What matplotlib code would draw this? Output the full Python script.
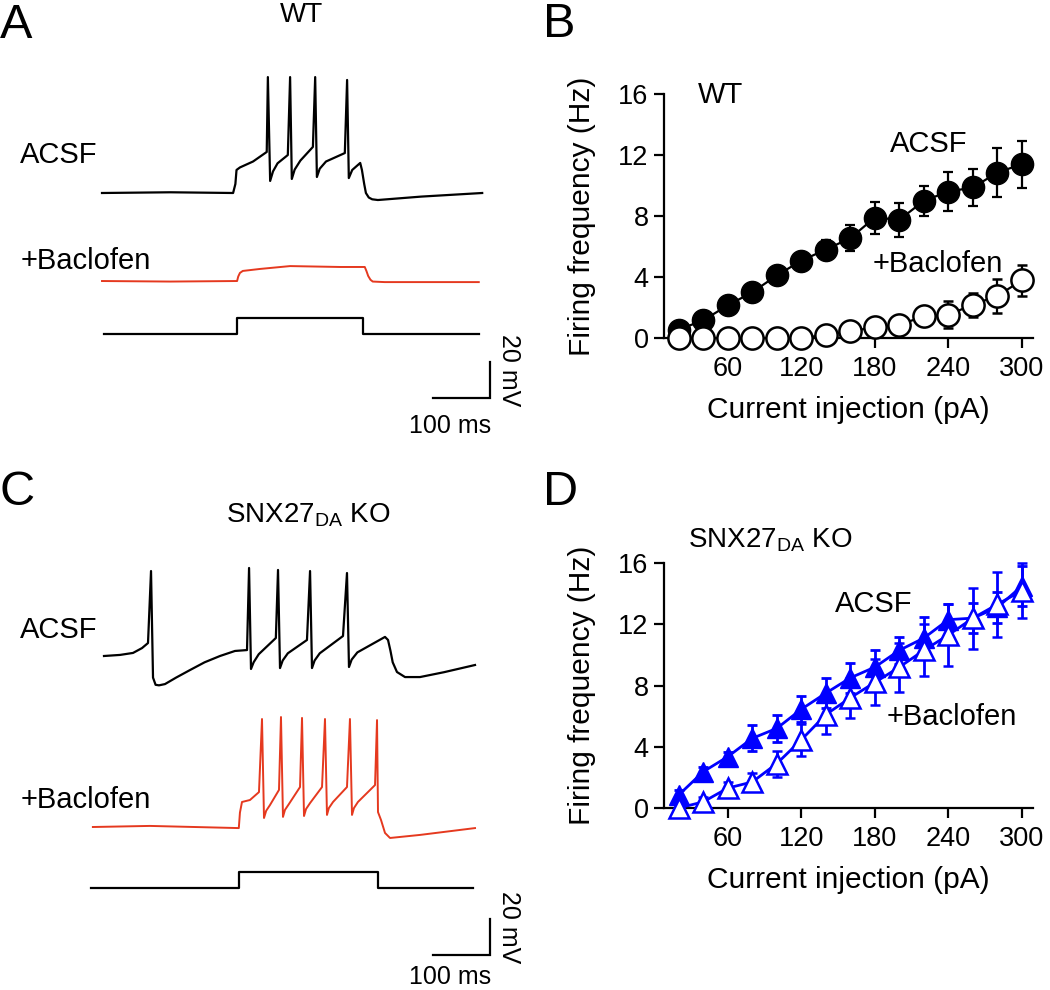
import matplotlib.pyplot as plt

plt.rcParams['font.family'] = ['Liberation Sans', 'DejaVu Sans']

# ---- firing frequency data (Hz) vs current injection (pA) ----
current_pa = [20, 40, 60, 80, 100, 120, 140, 160, 180, 200, 220, 240, 260, 280, 300]

wt_acsf = [0.55, 1.16, 2.14, 3.0, 4.1, 5.07, 5.8, 6.55, 7.9, 7.75, 9.0, 9.6, 9.87, 10.85, 11.4]
wt_acsf_err = [0.3, 0.35, 0.35, 0.35, 0.45, 0.5, 0.65, 0.85, 1.05, 1.1, 1.0, 1.3, 1.2, 1.6, 1.55]
wt_bac = [0, 0, 0, 0, 0, 0, 0.2, 0.45, 0.7, 0.87, 1.42, 1.53, 2.18, 2.77, 3.78]
wt_bac_err = [0, 0, 0, 0, 0, 0, 0.15, 0.25, 0.3, 0.35, 0.6, 0.87, 0.8, 1.1, 1.0]

ko_acsf = [0.85, 2.37, 3.35, 4.55, 5.2, 6.45, 7.5, 8.5, 9.2, 10.3, 11.1, 12.3, 12.4, 13.1, 14.5]
ko_acsf_err = [0.3, 0.3, 0.3, 0.85, 0.9, 0.85, 1.0, 1.0, 1.1, 0.9, 1.4, 1.0, 1.0, 1.0, 1.3]
ko_bac = [0.0, 0.4, 1.3, 1.7, 2.9, 4.45, 6.1, 7.2, 8.2, 9.2, 10.3, 11.3, 12.4, 13.3, 14.2]
ko_bac_err = [0.2, 0.3, 0.4, 0.6, 0.85, 1.05, 1.25, 1.3, 1.5, 1.6, 1.7, 2.0, 2.0, 2.1, 1.8]

freq_ticks = [0, 4, 8, 12, 16]
current_ticks = [60, 120, 180, 240, 300]

# ---- example voltage traces (ms, mV) ----
wt_acsf_t = [0, 120, 230, 234, 236, 242, 265, 289, 291, 295, 300, 308, 326, 330, 333, 338, 348,
             370, 374, 377, 382, 393, 426, 430, 433, 439, 453, 456, 460, 463, 468, 474, 484,
             560, 667]
wt_acsf_v = [-60, -59.6, -60, -55, -47.2, -45.8, -42.5, -37.2, 4.4, -53.3, -48, -43.5, -38.9, 4.4,
             -52.2, -47, -42, -34.4, 4.4, -51.1, -46.5, -42.5, -37.8, 2.8, -51.7, -47.2, -43.3,
             -47.2, -55, -60, -62.5, -63.5, -63.9, -62, -60]

wt_bac_t = [0, 120, 237, 239, 242, 247, 277, 330, 418, 461, 464, 467, 471, 475, 496, 661]
wt_bac_v = [-60, -60.3, -60, -57.5, -55.5, -54.4, -53.3, -51.7, -52.2, -52.2, -54.5, -57.2, -59.3,
            -60.3, -60.6, -60.6]

wt_step_t = [3, 237, 237, 458, 458, 661]
ko_step_t = [-19, 240, 240, 485, 485, 651]
step_level = [0, 0, 1, 1, 0, 0]

ko_acsf_t = [3.5, 31.6, 54.4, 70.2, 80.7, 86, 89.5, 94, 100, 110.5, 130, 154.4, 180, 207, 233.3,
             254.4, 258, 261.4, 266, 275, 305, 308.8, 312.3, 317, 326, 359.6, 365, 368.4, 373,
             382, 422.8, 429.8, 433.3, 438, 448, 496.5, 501.8, 506, 510, 517.5, 531.6, 557.9,
             600, 654.4]
ko_acsf_v = [-60, -59.4, -58.3, -55.6, -52.8, -12.8, -72, -76, -76.3, -75.6, -72, -67.8, -63.5,
             -60, -57.2, -56.7, -11.1, -67.2, -63.5, -59, -50, -12.2, -66.7, -62.5, -58.5, -51.1,
             -12.8, -66.7, -62.5, -58.5, -48.9, -13.9, -66.1, -62, -58, -49.4, -51.1, -57,
             -63.5, -68.9, -71.7, -71.7, -69, -65]

ko_bac_t = [-16, 84, 240, 242, 245.6, 259.6, 275.4, 280.7, 284.2, 288, 294.7, 310.5, 314, 317.5,
            321, 328, 347.4, 350.9, 354.4, 358, 365, 386, 391.2, 394.7, 398, 405.3, 429.8, 435,
            438.6, 442, 449, 479, 482.5, 484.2, 489.5, 496.5, 505.3, 557.9, 654.4]
ko_bac_v = [-60, -59.4, -60.6, -52, -46.1, -45, -40.6, 0, -55, -51, -47.8, -39.4, 1.1, -54.4,
            -50.5, -47.2, -37.8, 0.6, -53.9, -50, -46.7, -37.8, 0, -53.3, -49.5, -46.1, -37.8,
            0, -53.3, -49.5, -46.1, -36.7, -0.6, -51.7, -56.1, -63.3, -66.1, -64.4, -60.6]

RED = '#e5391f'
BLUE = '#0000ff'

W, H = 1050, 990
fig = plt.figure(figsize=(W / 100, H / 100), dpi=100)


def fx(x):
    return x / W


def fy(y):
    return 1 - y / H


def put(x, y, s, size=21, **kw):
    fig.text(fx(x), fy(y), s, fontsize=size, va='baseline', **kw)


# ---- trace panels (A, C) ----
PX_MS = 0.57   # pixels per ms
PX_MV = 1.8    # pixels per mV
T0_PX = 102


def trace_axes(top, bottom, base_py):
    ax = fig.add_axes([fx(85), fy(bottom), (505 - 85) / W, (bottom - top) / H])
    ax.set_xlim((85 - T0_PX) / PX_MS, (505 - T0_PX) / PX_MS)
    ax.set_ylim(-60 - (bottom - base_py) / PX_MV, -60 + (base_py - top) / PX_MV)
    ax.axis('off')
    return ax


def scale_bar(ax, v_bottom):
    t_right = (490 - T0_PX) / PX_MS
    ax.plot([t_right - 100, t_right, t_right], [v_bottom, v_bottom, v_bottom + 20],
            color='black', lw=1.6, solid_joinstyle='miter')


axA = trace_axes(45, 445, 193)
axA.plot(wt_acsf_t, wt_acsf_v, color='black', lw=1.6)
axA.plot(wt_bac_t, [v - 48.9 for v in wt_bac_v], color=RED, lw=1.4)
axA.plot(wt_step_t, [-138.3 + 8.9 * s for s in step_level], color='black', lw=1.6)
scale_bar(axA, -60 - (398 - 193) / PX_MV)

axC = trace_axes(530, 985, 656)
axC.plot(ko_acsf_t, ko_acsf_v, color='black', lw=1.6)
axC.plot(ko_bac_t, [v - 95.0 for v in ko_bac_v], color=RED, lw=1.4)
axC.plot(ko_step_t, [-188.9 + 8.9 * s for s in step_level], color='black', lw=1.6)
scale_bar(axC, -60 - (955 - 656) / PX_MV)

put(0, 38, 'A', size=35)
put(302, 22, 'WT', size=20, ha='center')
put(20, 163, 'ACSF')
put(21, 269, '+Baclofen')
fig.text(fx(509), fy(370), '20 mV', fontsize=18, rotation=-90, ha='center', va='center')
put(450, 433, '100 ms', size=18, ha='center')

put(0, 505, 'C', size=35)
put(308, 522, r'SNX27$_{\mathregular{DA}}$ KO', size=20, ha='center')
put(20, 638, 'ACSF')
put(21, 808, '+Baclofen')
fig.text(fx(509), fy(927), '20 mV', fontsize=18, rotation=-90, ha='center', va='center')
put(450, 984, '100 ms', size=18, ha='center')


# ---- frequency panels (B, D) ----
def freq_axes(top, bottom):
    ax = fig.add_axes([fx(664), fy(bottom), (1033 - 664) / W, (bottom - top) / H])
    ax.set_xlim(8, 309)
    ax.set_ylim(0, 16)
    ax.set_xticks(current_ticks)
    ax.set_yticks(freq_ticks)
    for s in ['top', 'right']:
        ax.spines[s].set_visible(False)
    for s in ['left', 'bottom']:
        ax.spines[s].set_linewidth(1.6)
    ax.tick_params(direction='out', length=7, width=1.6, labelsize=19.5)
    ax.tick_params(axis='x', pad=6)
    ax.tick_params(axis='y', pad=4)
    ax.set_ylabel('Firing frequency (Hz)', fontsize=21.5)
    ax.yaxis.set_label_coords(-0.184, 0.5)
    ax.set_xlabel('Current injection (pA)', fontsize=21.5, labelpad=10)
    return ax


axB = freq_axes(94, 338)
axB.errorbar(current_pa, wt_acsf, yerr=wt_acsf_err, fmt='-o', color='black', mfc='black',
             mec='black', ms=16, lw=1.6, elinewidth=1.6, capsize=3.5, capthick=1.6,
             clip_on=False, zorder=3)
axB.errorbar(current_pa, wt_bac, yerr=wt_bac_err, fmt='-o', color='black', mfc='white',
             mec='black', mew=1.8, ms=16, lw=1.6, elinewidth=1.6, capsize=3.5, capthick=1.6,
             clip_on=False, zorder=4)
put(698, 103, 'WT')
put(890, 152, 'ACSF')
put(873, 272, '+Baclofen')
put(543, 37, 'B', size=35)

axD = freq_axes(563, 808)
axD.errorbar(current_pa, ko_acsf, yerr=ko_acsf_err, fmt='-^', color=BLUE, mfc=BLUE, mec=BLUE,
             ms=15, lw=2, elinewidth=2, capsize=3.5, capthick=2, clip_on=False, zorder=3)
axD.errorbar(current_pa, ko_bac, yerr=ko_bac_err, fmt='-^', color=BLUE, mfc='white', mec=BLUE,
             mew=1.8, ms=15, lw=2, elinewidth=2, capsize=3.5, capthick=2, clip_on=False, zorder=4)
put(688, 547, r'SNX27$_{\mathregular{DA}}$ KO', size=20)
put(835, 612, 'ACSF')
put(887, 725, '+Baclofen')
put(543, 505, 'D', size=35)

fig.savefig('out.png', dpi=100)
